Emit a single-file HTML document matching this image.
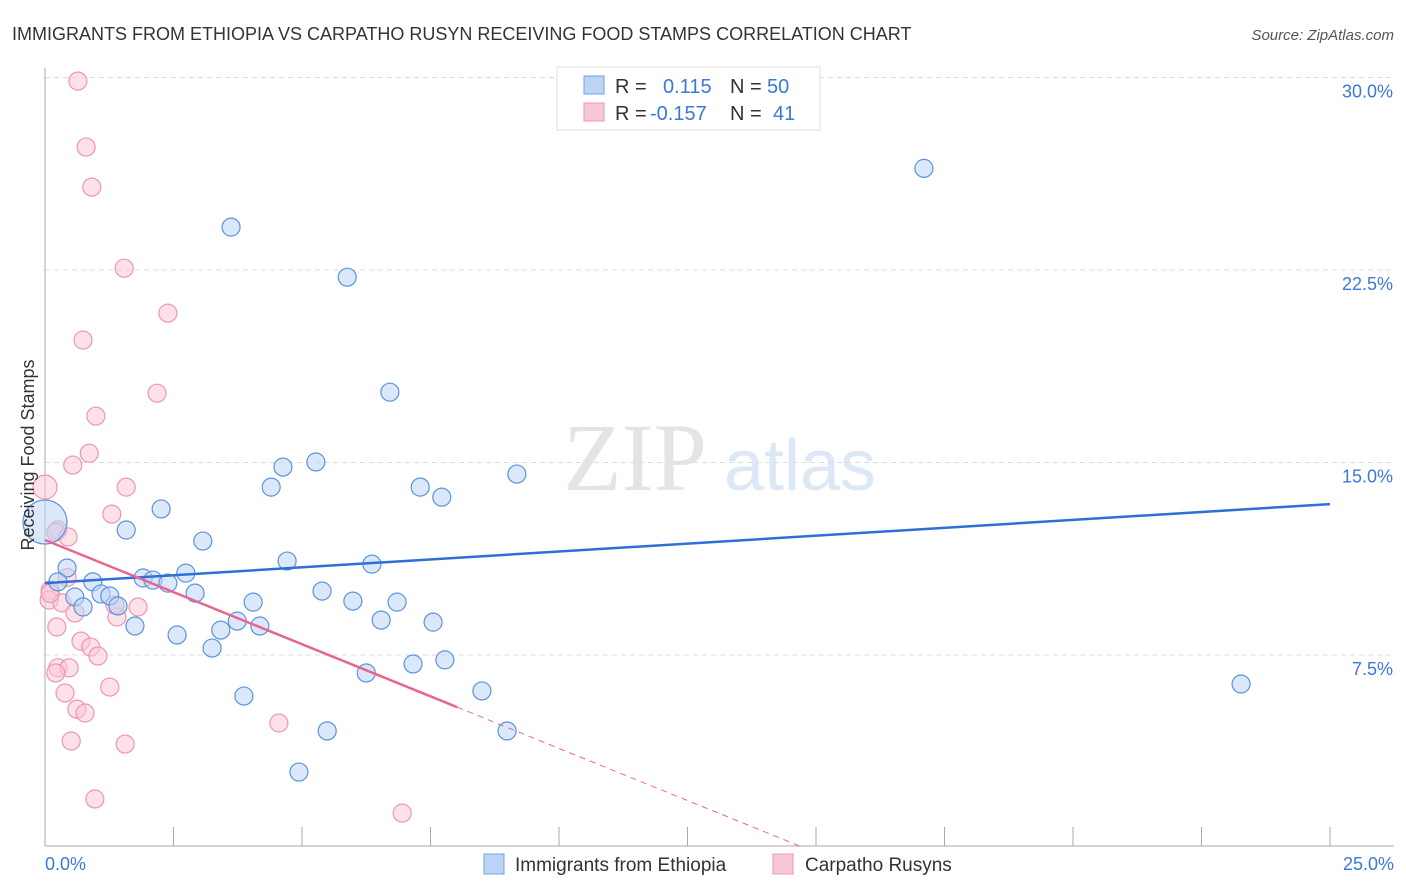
<!DOCTYPE html>
<html><head><meta charset="utf-8"><style>
body{margin:0;background:#fff;font-family:"Liberation Sans",sans-serif}
svg{display:block}
</style></head><body>
<svg id="chart" width="1406" height="892" xmlns="http://www.w3.org/2000/svg">
<text x="12" y="40" font-size="18" fill="#333">IMMIGRANTS FROM ETHIOPIA VS CARPATHO RUSYN RECEIVING FOOD STAMPS CORRELATION CHART</text>
<text x="1394" y="40" font-size="15" fill="#555" font-style="italic" text-anchor="end">Source: ZipAtlas.com</text>
<text x="635" y="490" font-size="96" fill="#e4e4e4" font-family="Liberation Serif" text-anchor="middle">ZIP</text>
<text x="800" y="490" font-size="72" fill="#dce8f6" text-anchor="middle">atlas</text>
<g id="grid"></g><g id="axes"></g>
<g id="pts"></g><g id="trend"></g>
<text transform="translate(34,455) rotate(-90)" font-size="18" fill="#333" text-anchor="middle">Receiving Food Stamps</text>
<g>
<rect x="557" y="67" width="263" height="63" fill="#fff" stroke="#ddd"/>
<rect x="584" y="76" width="20" height="18" fill="#bcd5f5" stroke="#6fa0e0"/>
<rect x="584" y="103" width="20" height="18" fill="#f9c8d6" stroke="#ee96b0"/>
<text x="615" y="93" font-size="20" fill="#333">R = </text><text x="663" y="93" font-size="20" fill="#3b78d8">0.115</text>
<text x="730" y="93" font-size="20" fill="#333">N = </text><text x="767" y="93" font-size="20" fill="#3b78d8">50</text>
<text x="615" y="120" font-size="20" fill="#333">R = </text><text x="650" y="120" font-size="20" fill="#3b78d8">-0.157</text>
<text x="730" y="120" font-size="20" fill="#333">N = </text><text x="773" y="120" font-size="20" fill="#3b78d8">41</text>
</g>
<g>
<rect x="484" y="854" width="20" height="20" fill="#bcd5f5" stroke="#6fa0e0"/>
<text x="515" y="871" font-size="19" fill="#333">Immigrants from Ethiopia</text>
<rect x="773" y="854" width="20" height="20" fill="#f9c8d6" stroke="#ee96b0"/>
<text x="805" y="871" font-size="19" fill="#333">Carpatho Rusyns</text>
</g>
</svg>
<script>
const yTicks=[7.5,15,22.5,30];
const yTickLabels=["7.5%","15.0%","22.5%","30.0%"];
const xTickLabels=["0.0%","25.0%"];
const blueX=[3.62,5.88,17.1,6.71,4.63,5.27,4.40,7.30,7.72,9.18,2.26,1.58,3.07,0,0.43,0.25,0.93,0.58,0.74,1.09,1.26,1.42,1.91,2.10,2.39,2.74,2.92,1.75,2.57,3.25,3.42,3.74,4.05,4.18,3.87,4.71,5.39,5.99,6.36,6.54,6.85,7.55,7.16,7.78,6.25,5.49,4.94,8.50,8.99,23.27];
const blueY=[24.17,22.22,26.46,17.74,14.82,15.02,14.04,14.04,13.65,14.55,13.19,12.37,11.94,12.68,10.89,10.35,10.35,9.76,9.37,9.88,9.80,9.41,10.50,10.42,10.30,10.69,9.91,8.63,8.28,7.77,8.47,8.82,9.56,8.63,5.90,11.16,9.99,9.60,11.04,8.86,9.56,8.78,7.15,7.31,6.80,4.54,2.94,6.10,4.54,6.37];
const pinkX=[0.64,0.80,0.91,1.54,2.39,0.74,2.18,0.99,0.86,0.54,0,1.58,1.30,0.25,0.21,0.45,0.43,0.10,0.08,0.33,0.58,0.23,1.40,1.36,1.81,0.70,0.89,1.03,0.25,0.47,0.21,0.39,1.26,0.62,0.78,0.51,1.56,4.55,0.97,6.95,0.1];
const pinkY=[29.86,27.29,25.73,22.57,20.82,19.77,17.70,16.81,15.36,14.90,14.04,14.04,12.99,12.37,12.29,12.10,10.52,10.03,9.64,9.53,9.14,8.59,8.98,9.45,9.37,8.04,7.81,7.46,7.00,7.00,6.80,6.02,6.25,5.39,5.24,4.15,4.03,4.85,1.89,1.34,9.9];
const blueTrend=[10.30,13.38];
const pinkTrend=[11.98,-0.812];
const X=v=>45+v/25*1285, Y=v=>847.5-v/7.5*192.5;
const NS="http://www.w3.org/2000/svg";
function mk(tag,attrs,parent){const e=document.createElementNS(NS,tag);for(const k in attrs)e.setAttribute(k,attrs[k]);document.getElementById(parent).appendChild(e);return e;}
yTicks.forEach((t,i)=>{
 const l=mk('line',{x1:45,x2:1394,y1:Y(t),y2:Y(t),stroke:'#ddd','stroke-dasharray':'5,4'},'grid');
 
 
 const tx=mk('text',{x:1393,y:Y(t)+20,'font-size':18,fill:'#3b78d8','text-anchor':'end'},'grid');
 tx.textContent=yTickLabels[i];
 
 
});
const ax=mk('line',{x1:45,x2:45,y1:68,y2:846,stroke:'#aaa'},'axes');


const bx=mk('line',{x1:45,x2:1394,y1:846,y2:846,stroke:'#aaa'},'axes');


for(let i=1;i<=10;i++){const t=mk('line',{x1:X(i*2.5),x2:X(i*2.5),y1:827,y2:846,stroke:'#aaa'},'axes');
 
 }
[[0,'start',45],[25,'end',1394]].forEach((d,i)=>{const t=mk('text',{x:d[2],y:870,'font-size':18,fill:'#3b78d8','text-anchor':d[1]},'axes');t.textContent=xTickLabels[i];
 
 });
function dots(xs,ys,fill,stroke,name){xs.forEach((x,i)=>{let r=9;if(x===0&&(ys[i]===12.68))r=22;else if(x===0)r=12;
 const c=mk('circle',{cx:X(x),cy:Y(ys[i]),r:r,fill:fill,'fill-opacity':0.55,stroke:stroke,'stroke-width':1.2},'pts');
 
 });}
dots(pinkX,pinkY,'#f9c8d6','#ee96b0','point-carpatho-rusyn');
dots(blueX,blueY,'#bcd5f5','#5b93dc','point-ethiopia');
const bl=mk('line',{x1:X(0),y1:Y(blueTrend[0]),x2:X(25),y2:Y(blueTrend[1]),stroke:'#2e6fd8','stroke-width':2.5},'trend');


const pe=8.02, pz=-pinkTrend[0]/pinkTrend[1];
const pl=mk('line',{x1:X(0),y1:Y(pinkTrend[0]),x2:X(pe),y2:Y(pinkTrend[0]+pinkTrend[1]*pe),stroke:'#e8658f','stroke-width':2.5},'trend');


const pd=mk('line',{x1:X(pe),y1:Y(pinkTrend[0]+pinkTrend[1]*pe),x2:X(pz),y2:Y(0),stroke:'#e8658f','stroke-width':1,'stroke-dasharray':'6,5'},'trend');


</script>
</body></html>
